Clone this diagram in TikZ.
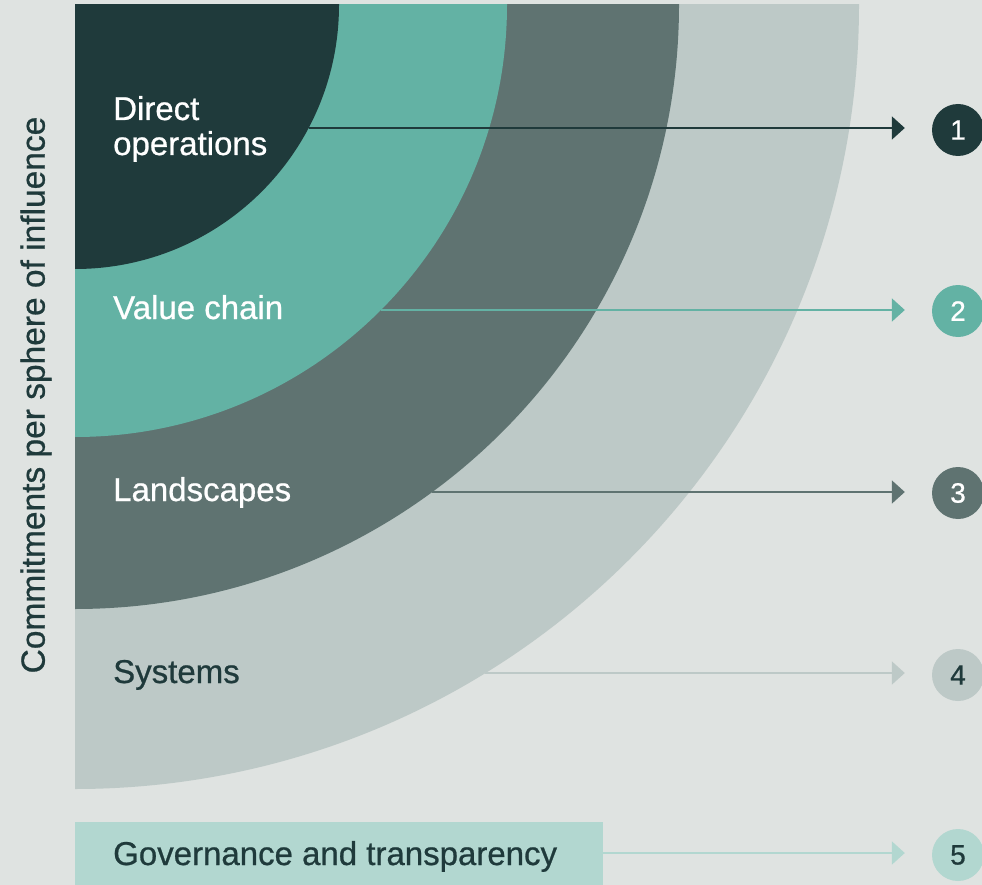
\documentclass[tikz,border=0pt]{standalone}
\usepackage{fontspec}
\setmainfont{Liberation Sans}[FakeBold=0.7]
\usetikzlibrary{arrows.meta}
\definecolor{bg}{HTML}{DFE3E1}
\definecolor{dkgreen}{HTML}{1F3A3B}
\definecolor{teal}{HTML}{63B2A4}
\definecolor{dkgrey}{HTML}{5F7371}
\definecolor{ltgrey}{HTML}{BDC9C7}
\definecolor{ltteal}{HTML}{B2D7D0}
\begin{document}
\begin{tikzpicture}[x=1pt,y=-1pt,
  lbl/.style={anchor=base west, font=\fontsize{33}{37}\selectfont, inner sep=0pt},
  num/.style={circle, minimum size=52pt, inner sep=0pt, font=\fontsize{28}{31}\selectfont},
  conn/.style={line width=2pt, shorten >=27pt, -{Triangle[length=13pt,width=23pt]}}]
\fill[bg] (0,0) rectangle (982,885);
\useasboundingbox (0,0) rectangle (982,885);
\begin{scope}
  \clip (75,5) rectangle (982,885);
  \fill[ltgrey] (75,5) circle[radius=784pt];
  \fill[dkgrey] (75,5) circle[radius=604pt];
  \fill[teal] (75,5) circle[radius=432pt];
  \fill[dkgreen] (75,5) circle[radius=264pt];
\end{scope}
% labels
\node[lbl, text=white] (l1a) at (113,120) {Direct};
\node[lbl, text=white] (l1b) at (113,155) {operations};
\node[lbl, text=white] (l2) at (113,319) {Value chain};
\node[lbl, text=white] (l3) at (113,501) {Landscapes};
\node[lbl, text=dkgreen] (l4) at (113,683) {Systems};
\node[fill=ltteal, anchor=north west, minimum width=528pt, minimum height=66pt, inner sep=0pt] (gov) at (75,822) {};
\node[lbl, text=dkgreen] (l5) at (113,865) {Governance and transparency};
\node[rotate=90, text=dkgreen, font=\fontsize{33.5}{37}\selectfont, inner sep=0pt] (side) at (36,395) {Commitments per sphere of influence};
% number circles
\node[num, fill=dkgreen, text=white] (c1) at (958,130) {1};
\node[num, fill=teal, text=white] (c2) at (958,311) {2};
\node[num, fill=dkgrey, text=white] (c3) at (958,493) {3};
\node[num, fill=ltgrey, text=dkgreen] (c4) at (958,675) {4};
\node[num, fill=ltteal, text=dkgreen] (c5) at (958,855) {5};
% arrow starts on the sphere boundaries
\coordinate (s1) at (308.6,128);
\coordinate (s2) at (380.9,310);
\coordinate (s3) at (432.3,492);
\coordinate (s4) at (485.4,673);
\coordinate (s5) at (603,853);
\draw[conn, dkgreen] (s1) -- (s1 -| c1.west);
\draw[conn, teal] (s2) -- (s2 -| c2.west);
\draw[conn, dkgrey] (s3) -- (s3 -| c3.west);
\draw[conn, ltgrey] (s4) -- (s4 -| c4.west);
\draw[conn, ltteal] (s5) -- (s5 -| c5.west);
\end{tikzpicture}
\end{document}
